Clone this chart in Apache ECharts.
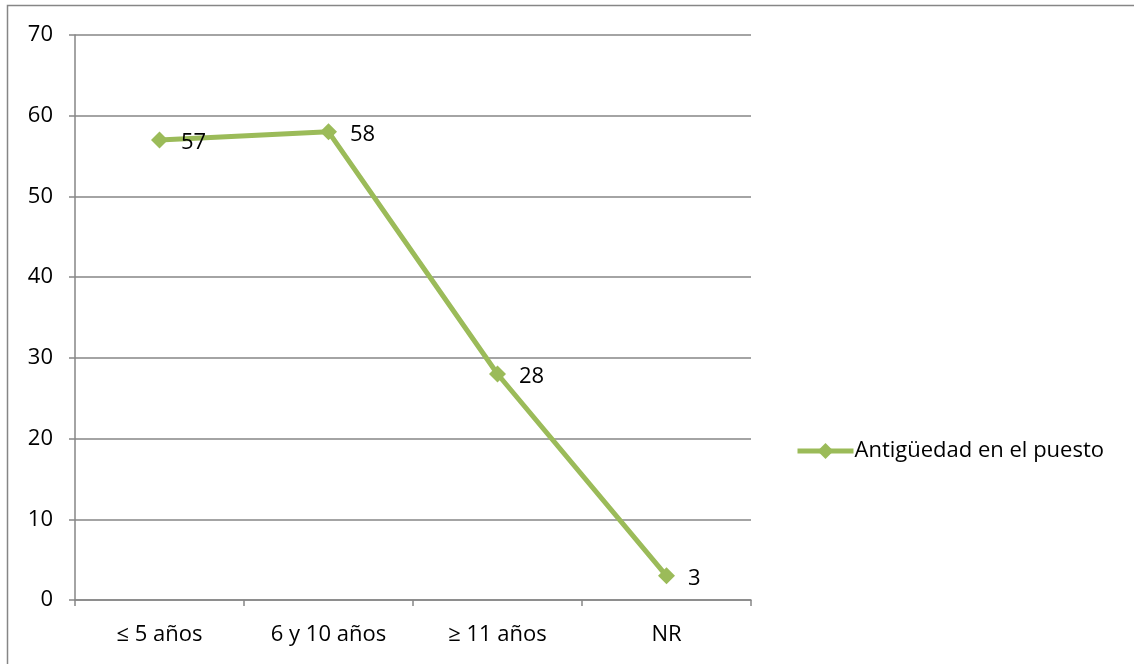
<!DOCTYPE html>
<html>
<head>
<meta charset="utf-8">
<script src="https://cdn.jsdelivr.net/npm/echarts@6/dist/echarts.min.js"></script>
<style>
  html, body { margin: 0; padding: 0; background: #fff; }
  #chart { width: 1134px; height: 664px; }
</style>
</head>
<body>
<div id="chart"></div>
<script>
// Categories and values for the line
const categories = ['≤ 5 años', '6 y 10 años', '≥ 11 años', 'NR'];
const seriesName = 'Antigüedad en el puesto';
const values = [57, 58, 28, 3];
const yTicks = { min: 0, max: 70, interval: 10 };

const FONT = '"Open Sans", "Liberation Sans", sans-serif';
const FS = 22;
const GREEN = '#9BBB59';
const GRAY = '#868686';

const chart = echarts.init(document.getElementById('chart'), null, { renderer: 'canvas' });

chart.setOption({
  backgroundColor: '#fff',
  animation: false,
  graphic: [{
    type: 'rect',
    shape: { x: 7.5, y: 5.5, width: 1140, height: 670 },
    style: { fill: 'none', stroke: GRAY, lineWidth: 1.5 },
    silent: true
  }],
  grid: { left: 75, right: 383, top: 35, bottom: 64, containLabel: false },
  legend: {
    left: 790,
    top: 435,
    orient: 'vertical',
    itemWidth: 56,
    itemHeight: 20,
    itemGap: 0,
    lineStyle: { width: 5, color: GREEN },
    itemStyle: { color: GREEN },
    textStyle: { fontFamily: FONT, fontSize: FS, color: '#000', padding: [0, 0, 0, -4] },
    data: [seriesName]
  },
  xAxis: {
    type: 'category',
    data: categories,
    boundaryGap: true,
    axisLine: { lineStyle: { color: GRAY, width: 1.5 } },
    axisTick: { show: true, length: 6, lineStyle: { color: GRAY, width: 1.5 } },
    axisLabel: { fontFamily: FONT, fontSize: FS, color: '#000', margin: 24 },
    splitLine: { show: false }
  },
  yAxis: {
    type: 'value',
    min: yTicks.min,
    max: yTicks.max,
    interval: yTicks.interval,
    axisLine: { show: true, lineStyle: { color: GRAY, width: 1.5 } },
    axisTick: { show: true, length: 6, lineStyle: { color: GRAY, width: 1.5 } },
    axisLabel: { fontFamily: FONT, fontSize: FS, color: '#000', margin: 22 },
    splitLine: { show: true, lineStyle: { color: GRAY, width: 1.5 } }
  },
  series: [{
    name: seriesName,
    type: 'line',
    data: values,
    symbol: 'diamond',
    symbolSize: 17,
    lineStyle: { color: GREEN, width: 5 },
    itemStyle: { color: GREEN },
    label: {
      show: true,
      position: 'right',
      distance: 13,
      offset: [0, 3],
      fontFamily: FONT,
      fontSize: FS,
      color: '#000'
    }
  }]
});
</script>
</body>
</html>
